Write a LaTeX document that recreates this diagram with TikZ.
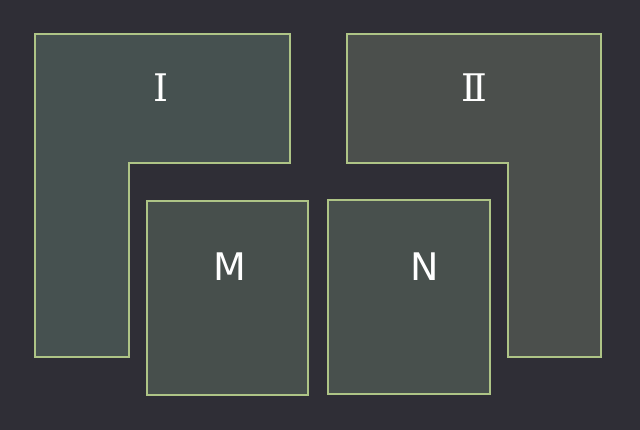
\documentclass[tikz,border=0pt]{standalone}
\usepackage{fontspec}
\setmainfont{DejaVu Sans}
\newfontfamily\romanfont{DejaVu Serif}
\definecolor{bg}{HTML}{2F2E36}
\definecolor{edge}{HTML}{AEC486}
\definecolor{fillA}{HTML}{465150}
\definecolor{fillB}{HTML}{4B4F4C}
\definecolor{fillM}{HTML}{474F4C}
\definecolor{fillN}{HTML}{48504D}
\tikzset{
  piece/.style={draw=edge, line width=1.6pt, line join=miter},
  lbl/.style={text=white, font=\fontsize{38}{44}\selectfont, inner sep=0pt},
  rlbl/.style={text=white, font=\fontsize{38}{44}\selectfont\romanfont, inner sep=0pt}
}
\begin{document}
\begin{tikzpicture}[x=1pt,y=-1pt]
\fill[bg] (0,0) rectangle (640,430);
\useasboundingbox (0,0) rectangle (640,430);
\draw[piece, fill=fillA] (35,34) -- (290,34) -- (290,163) -- (129,163) -- (129,357) -- (35,357) -- cycle;
\draw[piece, fill=fillB] (347,34) -- (601,34) -- (601,357) -- (508,357) -- (508,163) -- (347,163) -- cycle;
\draw[piece, fill=fillM] (147,201) rectangle (308,395);
\draw[piece, fill=fillN] (328,200) rectangle (490,394);
\node[rlbl] (tI) at (161,88) {Ⅰ};
\node[rlbl] (tII) at (474,88) {Ⅱ};
\node[lbl] (tM) at (230,267) {M};
\node[lbl] (tN) at (425,267) {N};
\end{tikzpicture}
\end{document}
